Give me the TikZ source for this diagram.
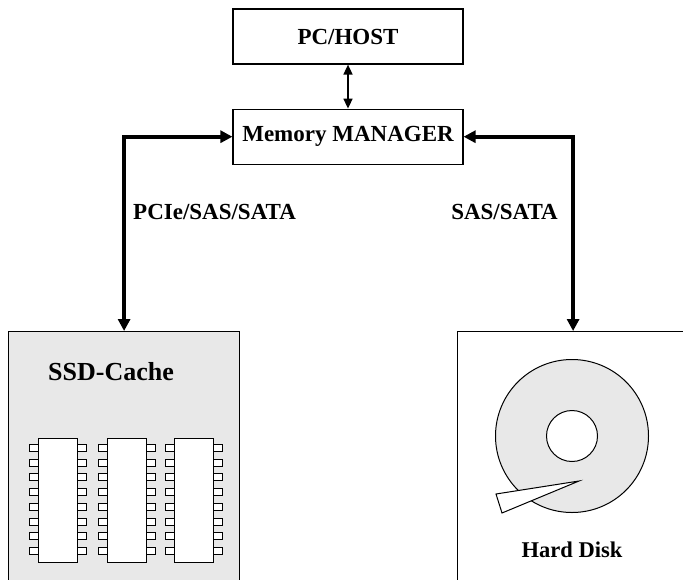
\documentclass[tikz,border=0pt]{standalone}
\usepackage{fontspec}
\setmainfont{Liberation Serif}
\usepackage{xcolor}
\usepackage{tikz}
\usetikzlibrary{arrows.meta,positioning,calc}
\definecolor{CacheGray}{HTML}{E8E8E8}
\tikzset{
  unit/.style={draw=black,line width=1.2pt,fill=white,minimum width=230pt,
    minimum height=55pt,inner sep=0pt,font=\fontsize{23}{27}\selectfont\bfseries},
  drive/.style={draw=black,line width=1.2pt,minimum width=231pt,minimum height=260pt,
    inner sep=0pt,anchor=north west},
  bus/.style={{Triangle[length=12pt,width=12pt]}-{Triangle[length=12pt,width=12pt]},line width=4pt},
  link/.style={{Triangle[length=10pt,width=9pt]}-{Triangle[length=10pt,width=9pt]},line width=1.6pt},
  buslabel/.style={font=\fontsize{23}{27}\selectfont\bfseries,inner sep=0pt},
  chip/.style={draw=black,line width=1pt,fill=white},
  pin/.style={draw=black,line width=0.9pt,fill=white}
}
\begin{document}
\begin{tikzpicture}[x=1pt,y=-1pt]
  \clip (0,0) rectangle (683,579);
  \fill[white] (0,0) rectangle (683,579);
  % host side
  \node[unit] (host) at (348,36.5) {PC/HOST};
  \node[unit,below=44pt of host] (mgr) {Memory MANAGER};
  \draw[link] (host) -- (mgr);
  % storage side
  \node[drive,fill=CacheGray] (ssd) at (8,331) {};
  \node[drive,fill=white] (hdd) at (457,331) {};
  \node[font=\fontsize{26}{30}\selectfont\bfseries] (ssdname) at (111,372) {SSD-Cache};
  \node[font=\fontsize{22.5}{26}\selectfont\bfseries] (hddname) at (572,550) {Hard Disk};
  \draw[bus] (ssd.north) |- (mgr.west);
  \draw[bus] (hdd.north) |- (mgr.east);
  \node[buslabel,anchor=west] (pcie) at (133,212) {PCIe/SAS/SATA};
  \node[buslabel,anchor=east] (sas) at (558,212) {SAS/SATA};
  % memory chips
  \foreach \cx in {38,107,174} {
    \draw[chip] (\cx,438) rectangle ++(39,124);
    \foreach \k in {0,...,7} {
      \draw[pin] (\cx-9,444.5+14.7*\k) rectangle ++(9,7);
      \draw[pin] (\cx+39,444.5+14.7*\k) rectangle ++(9,7);
    }
  }
  % platter and head
  \draw[line width=1pt,fill=CacheGray] (572,436) circle[radius=76.5pt];
  \draw[line width=1pt,fill=white] (572,436) circle[radius=25.5pt];
  \draw[line width=1pt,fill=white,line join=miter] (579,481) -- (496,494) -- (502,513) -- cycle;
\end{tikzpicture}
\end{document}
